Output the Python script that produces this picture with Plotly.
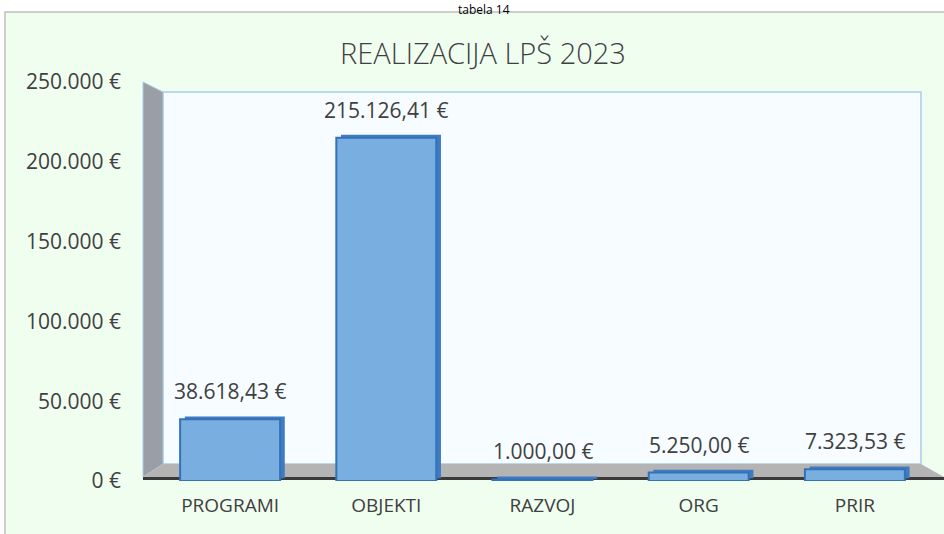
import plotly.graph_objects as go

categories = ["PROGRAMI", "OBJEKTI", "RAZVOJ", "ORG", "PRIR"]
values = [38618.43, 215126.41, 1000.00, 5250.00, 7323.53]
tick_vals = [0, 50000, 100000, 150000, 200000, 250000]
tick_text = ["0 €", "50.000 €", "100.000 €", "150.000 €", "200.000 €", "250.000 €"]
title_text = "REALIZACIJA LPŠ 2023"
caption = "tabela 14"

FONT = "Open Sans"
TXT = "#404040"

# plot area in pixels: x 152..933, y 82..481
L, R, T, B = 152, 11, 82, 53
W = 944 - L - R
H = 534 - T - B

def px(x):
    return (x - L) / W

def py(y):
    return (534 - B - y) / H

BAR_W = 0.64
DEPTH_LIFT = 1800  # 3D look: depth face raised slightly

fig = go.Figure()
# depth (side/top) faces drawn behind the front faces
fig.add_trace(go.Bar(
    x=categories, y=values, base=[DEPTH_LIFT] * len(values), width=BAR_W,
    offset=-BAR_W / 2 + 0.03,
    marker=dict(color="#3E7BC2", line=dict(width=0)),
    showlegend=False, hoverinfo="skip",
))
fig.add_trace(go.Bar(
    x=categories, y=values, width=BAR_W, offset=-BAR_W / 2,
    marker=dict(color="#78AEE0", line=dict(color="#3472B8", width=2)),
    showlegend=False, hoverinfo="x+y",
))

def fmt(v):
    s = f"{v:,.2f}"
    return s.replace(",", "X").replace(".", ",").replace("X", ".") + " €"

annotations = [dict(x=c, y=v, text=fmt(v), showarrow=False, yanchor="bottom", yshift=12,
                    font=dict(family=FONT, size=21, color=TXT))
               for c, v in zip(categories, values)]
annotations.append(dict(text=caption, xref="paper", yref="paper", x=px(484), y=py(-1),
                        xanchor="center", yanchor="top", showarrow=False,
                        font=dict(family=FONT, size=12, color="#000000")))

shapes = [
    # chart area
    dict(type="rect", xref="paper", yref="paper", x0=px(5), x1=px(960), y0=py(560), y1=py(12),
         fillcolor="#F0FEF0", line=dict(color="#BFBFBF", width=1.5), layer="below"),
    # back wall
    dict(type="rect", xref="paper", yref="paper", x0=px(163), x1=px(921), y0=py(464), y1=py(92),
         fillcolor="#F6FCFF", line=dict(color="#A9CBEA", width=1.5), layer="below"),
    # side wall
    dict(type="path", xref="paper", yref="paper",
         path=f"M {px(143)} {py(82)} L {px(163)} {py(92)} L {px(163)} {py(464)} L {px(143)} {py(477)} Z",
         fillcolor="#9A9FA5", line=dict(color="#A9CBEA", width=1), layer="below"),
    # floor
    dict(type="path", xref="paper", yref="paper",
         path=f"M {px(163)} {py(464)} L {px(921)} {py(464)} L {px(944)} {py(477)} L {px(143)} {py(477)} Z",
         fillcolor="#B4B4B4", line=dict(width=0), layer="below"),
    # base line
    dict(type="line", xref="paper", yref="paper", x0=px(143), x1=px(944), y0=py(478.5), y1=py(478.5),
         line=dict(color="#3A3A3A", width=3), layer="below"),
]

fig.update_layout(
    width=944, height=534,
    margin=dict(l=L, r=R, t=T, b=B),
    paper_bgcolor="white", plot_bgcolor="rgba(0,0,0,0)",
    barmode="overlay",
    title=dict(text=title_text, x=483 / 944, xref="container", xanchor="center",
               y=1 - 54 / 534, yref="container", yanchor="middle",
               font=dict(family=FONT, size=29, color=TXT, weight=300)),
    shapes=shapes,
    annotations=annotations,
)
fig.update_xaxes(range=[-0.5, 4.5], showgrid=False, showline=False, zeroline=False,
                 tickfont=dict(family=FONT, size=19, color=TXT), ticks="", ticklabelstandoff=11)
fig.update_yaxes(range=[0, 250000], tickvals=tick_vals, ticktext=tick_text,
                 showgrid=False, showline=False, zeroline=False,
                 tickfont=dict(family=FONT, size=21, color=TXT), ticks="", ticklabelstandoff=30)

fig.write_html("out.html", config={"displayModeBar": False},
               post_script="document.body.style.margin='0';document.body.style.overflow='hidden';")
